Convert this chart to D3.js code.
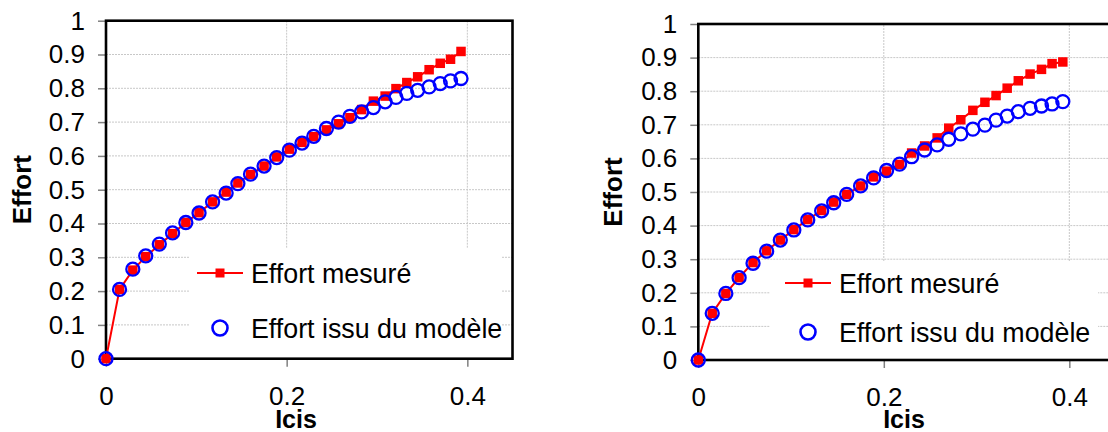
<!DOCTYPE html>
<html>
<head>
<meta charset="utf-8">
<script src="https://cdn.jsdelivr.net/npm/d3@7"></script>
<style>
html,body{margin:0;padding:0;background:#fff;}
svg{display:block;}
text{font-family:"Liberation Sans",Arial,sans-serif;fill:#000;}
</style>
</head>
<body>
<svg id="c" width="1108" height="432"></svg>
<script>
// ---- data ----
const xTicks = [0, 0.2, 0.4];
const yTicks = [0, 0.1, 0.2, 0.3, 0.4, 0.5, 0.6, 0.7, 0.8, 0.9, 1];
const icis = [0, 0.015, 0.0297, 0.044, 0.059, 0.0737, 0.0884, 0.103, 0.118, 0.133,
  0.146, 0.160, 0.175, 0.189, 0.203, 0.217, 0.230, 0.244, 0.2575, 0.270,
  0.283, 0.296, 0.309, 0.321, 0.333, 0.345, 0.3577, 0.370, 0.3814, 0.393];
const leftMesure = [0, 0.205, 0.262, 0.302, 0.337, 0.370, 0.403, 0.432, 0.464, 0.493,
  0.520, 0.545, 0.570, 0.597, 0.620, 0.640, 0.657, 0.677, 0.695, 0.713,
  0.737, 0.762, 0.777, 0.799, 0.817, 0.834, 0.855, 0.874, 0.886, 0.909];
const leftModele = [0, 0.205, 0.265, 0.304, 0.339, 0.372, 0.403, 0.431, 0.464, 0.490,
  0.518, 0.546, 0.570, 0.595, 0.617, 0.638, 0.658, 0.681, 0.700, 0.717,
  0.730, 0.743, 0.760, 0.773, 0.785, 0.794, 0.804, 0.814, 0.822, 0.829];
const rightMesure = [0, 0.139, 0.198, 0.245, 0.290, 0.325, 0.357, 0.388, 0.418, 0.445,
  0.470, 0.493, 0.518, 0.545, 0.562, 0.582, 0.616, 0.637, 0.661, 0.690,
  0.715, 0.743, 0.767, 0.787, 0.809, 0.831, 0.851, 0.865, 0.882, 0.887];
const rightModele = [0, 0.139, 0.198, 0.245, 0.288, 0.324, 0.357, 0.387, 0.417, 0.444,
  0.468, 0.493, 0.518, 0.542, 0.564, 0.583, 0.605, 0.625, 0.640, 0.657,
  0.673, 0.687, 0.699, 0.714, 0.726, 0.739, 0.749, 0.756, 0.762, 0.769];
const seriesNames = ["Effort mesuré", "Effort issu du modèle"];
const xTitle = "Icis";
const yTitle = "Effort";

const svg = d3.select("#c");

function drawChart(cfg) {
  const x = d3.scaleLinear().domain([0, 0.45]).range([cfg.left, cfg.right]);
  const y = d3.scaleLinear().domain([0, 1]).range([cfg.bottom, cfg.top]);
  const g = svg.append("g");

  // gridlines
  g.append("g").selectAll("line.h").data(yTicks.filter(d => d > 0 && d < 1)).join("line")
    .attr("x1", x(0)).attr("x2", x(0.45)).attr("y1", d => y(d)).attr("y2", d => y(d))
    .attr("stroke", "#c8c8c8").attr("stroke-width", 1).attr("stroke-dasharray", "2,1");
  g.append("g").selectAll("line.v").data(xTicks.filter(d => d > 0)).join("line")
    .attr("x1", d => x(d)).attr("x2", d => x(d)).attr("y1", y(0)).attr("y2", y(1))
    .attr("stroke", "#c8c8c8").attr("stroke-width", 1).attr("stroke-dasharray", "2,1");

  // legend background
  g.append("rect").attr("x", cfg.legX0).attr("y", cfg.legY0)
    .attr("width", cfg.legX1 - cfg.legX0).attr("height", y(0) - cfg.legY0)
    .attr("fill", "#fff");

  // axes
  const ax = g.append("g").attr("transform", `translate(0,${y(0)})`)
    .call(d3.axisBottom(x).tickValues(xTicks).tickSize(8).tickPadding(20).tickFormat(d => String(d)));
  const ay = g.append("g").attr("transform", `translate(${x(0)},0)`)
    .call(d3.axisLeft(y).tickValues(yTicks).tickSize(8).tickPadding(13).tickFormat(d => String(d)));
  [ax, ay].forEach(a => {
    a.select(".domain").remove();
    a.selectAll(".tick line").attr("stroke", "#808080").attr("stroke-width", 1.5);
    a.selectAll(".tick text").attr("font-size", 26).attr("font-family", "Liberation Sans, Arial, sans-serif").attr("fill", "#000");
  });

  // border
  g.append("rect").attr("x", x(0)).attr("y", y(1))
    .attr("width", x(0.45) - x(0)).attr("height", y(0) - y(1))
    .attr("fill", "none").attr("stroke", "#000").attr("stroke-width", 2.6);

  // measured series line + squares
  const pts = icis.map((d, i) => [d, cfg.mesure[i]]);
  g.append("path").datum(pts)
    .attr("d", d3.line().x(d => x(d[0])).y(d => y(d[1])))
    .attr("fill", "none").attr("stroke", "#ff0000").attr("stroke-width", 2);
  const sq = 9.5;
  g.append("g").selectAll("rect").data(pts).join("rect")
    .attr("x", d => x(d[0]) - sq / 2).attr("y", d => y(d[1]) - sq / 2)
    .attr("width", sq).attr("height", sq).attr("fill", "#ff0000");

  // model circles
  g.append("g").selectAll("circle").data(icis.map((d, i) => [d, cfg.modele[i]])).join("circle")
    .attr("cx", d => x(d[0])).attr("cy", d => y(d[1])).attr("r", 6.5)
    .attr("fill", "none").attr("stroke", "#0000ff").attr("stroke-width", 2.3);

  // legend
  const lg = g.append("g");
  lg.append("line").attr("x1", cfg.legLineX).attr("x2", cfg.legLineX + 46)
    .attr("y1", cfg.legRow1).attr("y2", cfg.legRow1).attr("stroke", "#ff0000").attr("stroke-width", 2);
  lg.append("rect").attr("x", cfg.legLineX + 23 - 4.5).attr("y", cfg.legRow1 - 4.5)
    .attr("width", 9).attr("height", 9).attr("fill", "#ff0000");
  lg.append("circle").attr("cx", cfg.legLineX + 23).attr("cy", cfg.legRow2).attr("r", 7.5)
    .attr("fill", "none").attr("stroke", "#0000ff").attr("stroke-width", 2.6);
  lg.append("text").attr("x", cfg.legTextX).attr("y", cfg.legRow1).attr("dy", "0.36em")
    .attr("font-size", 26.8).text(seriesNames[0]);
  lg.append("text").attr("x", cfg.legTextX).attr("y", cfg.legRow2).attr("dy", "0.36em")
    .attr("font-size", 26.8).text(seriesNames[1]);

  // axis titles
  g.append("text").attr("x", cfg.xTitleX).attr("y", 428).attr("text-anchor", "middle")
    .attr("font-size", 25).attr("font-weight", "bold").text(xTitle);
  g.append("text").attr("transform", `translate(${cfg.yTitleX},${(y(0) + y(1)) / 2}) rotate(-90)`)
    .attr("text-anchor", "middle").attr("dy", "0.36em")
    .attr("font-size", 26).attr("font-weight", "bold").text(yTitle);
}

drawChart({left: 106, right: 512.5, top: 20.7, bottom: 358.7,
  mesure: leftMesure, modele: leftModele,
  legX0: 189, legX1: 501, legY0: 248,
  legLineX: 197, legTextX: 251, legRow1: 273, legRow2: 328,
  xTitleX: 296, yTitleX: 22});
drawChart({left: 698.3, right: 1115.7, top: 24, bottom: 360,
  mesure: rightMesure, modele: rightModele,
  legX0: 770, legX1: 1098, legY0: 261,
  legLineX: 785, legTextX: 839, legRow1: 283, legRow2: 332,
  xTitleX: 904, yTitleX: 613});
</script>
</body>
</html>
